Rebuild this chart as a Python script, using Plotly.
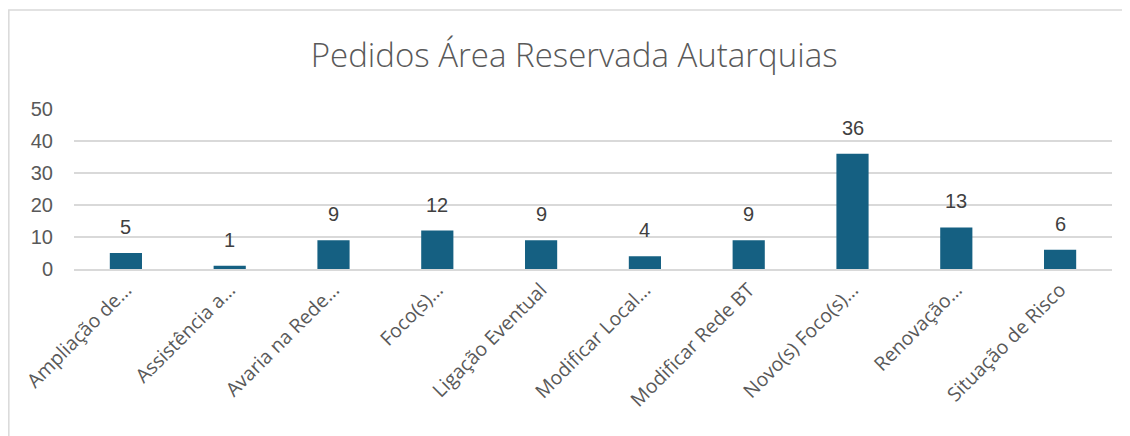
import plotly.graph_objects as go

categories = ["Ampliação de…", "Assistência a…", "Avaria na Rede…", "Foco(s)…",
              "Ligação Eventual", "Modificar Local…", "Modificar Rede BT",
              "Novo(s) Foco(s)…", "Renovação…", "Situação de Risco"]
values = [5, 1, 9, 12, 9, 4, 9, 36, 13, 6]
y_ticks = [0, 10, 20, 30, 40, 50]

fig = go.Figure()
fig.add_trace(go.Bar(x=categories, y=values, marker=dict(color="#156082", line=dict(width=0)),
                     hoverinfo="x+y"))

for c, v in zip(categories, values):
    fig.add_annotation(x=c, y=v, text=str(v), showarrow=False, yanchor="middle", yshift=26,
                       font=dict(family="Liberation Sans", size=20, color="#404040"))

fig.add_shape(type="rect", xref="paper", yref="paper", x0=-0.0628, x1=1.05, y0=-1.2, y1=1.619,
              line=dict(color="#d9d9d9", width=1.5), fillcolor="rgba(0,0,0,0)", layer="below")

fig.update_layout(
    width=1130, height=436,
    margin=dict(l=66, r=26, t=101, b=175),
    paper_bgcolor="white", plot_bgcolor="white",
    title=dict(text="Pedidos Área Reservada Autarquias", x=0.501, xanchor="center", y=0.892, yanchor="middle",
               font=dict(family="Open Sans", size=33, color="#595959", weight=300)),
    bargap=0.69,
    showlegend=False,
    xaxis=dict(tickangle=-45, tickfont=dict(family="Open Sans", size=19.5, color="#595959"),
               showgrid=False, showline=True, linecolor="#d9d9d9", linewidth=1.5, ticks=""),
    yaxis=dict(range=[0, 50], tickvals=y_ticks, showgrid=True, gridcolor="#d9d9d9", gridwidth=1.5,
               zeroline=False, showline=False, ticks="", ticklabelstandoff=20,
               tickfont=dict(family="Liberation Sans", size=20, color="#595959")),
)

fig.write_html("out.html")
